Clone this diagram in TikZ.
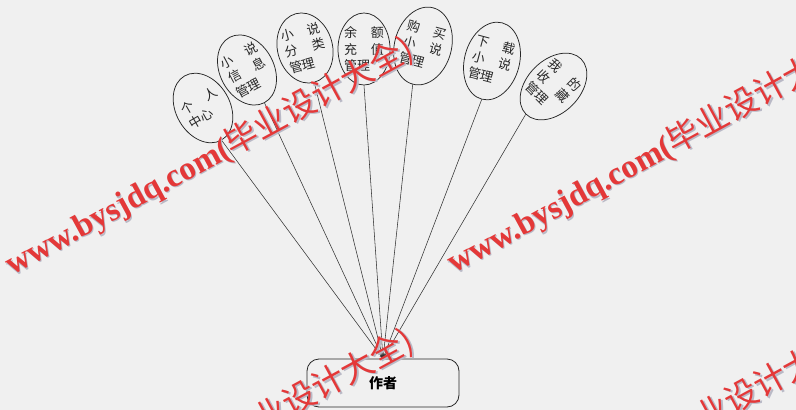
\documentclass[tikz,border=0pt]{standalone}
\usepackage{fontspec}
\setmainfont{Liberation Serif}
\newfontfamily\cjk{Noto Sans CJK SC}
\usetikzlibrary{shapes.geometric,arrows.meta}
\definecolor{bgc}{RGB}{240,240,240}
\definecolor{wmred}{RGB}{228,56,56}
\definecolor{wmsh}{RGB}{185,185,198}
\newcommand{\rowj}[2]{\makebox[40pt][s]{#1\hfill#2}}
\newcommand{\rowl}[1]{\makebox[40pt][l]{#1}}
\begin{document}
\begin{tikzpicture}[x=1pt,y=-1pt,
  ell/.style={draw=black!85, line width=0.75pt, ellipse, inner sep=0pt},
  etext/.style={font=\cjk\fontsize{13}{16.5}\selectfont, align=left, inner sep=0pt, text=black!85},
  conn/.style={draw=black!80, line width=0.55pt, -{Stealth[length=4pt,width=2.6pt]}},
  box/.style={draw=black!85, line width=0.8pt, rounded corners=12pt, minimum width=152pt, minimum height=48pt, inner sep=0pt, font=\cjk\bfseries\fontsize{14}{16}\selectfont},
  wm/.style={text=wmred, font=\fontsize{33}{33}\selectfont\bfseries, inner sep=0pt, anchor=base west, rotate=28.5}]
\useasboundingbox (0,0) rectangle (796,410);
\fill[bgc] (0,0) rectangle (796,410);

\node[ell, minimum width=54pt, minimum height=74pt, rotate=30] (e1) at (203,108) {};
\node[etext, rotate=30] (t1) at (e1.center) {\rowj{个}{人}\\\rowl{中心}};

\node[ell, minimum width=54pt, minimum height=74pt, rotate=28] (e2) at (247,70) {};
\node[etext, rotate=28] (t2) at (e2.center) {\rowj{小}{说}\\\rowj{信}{息}\\\rowl{管理}};

\node[ell, minimum width=55pt, minimum height=71pt, rotate=15] (e3) at (305,48) {};
\node[etext, rotate=15] (t3) at (e3.center) {\rowj{小}{说}\\\rowj{分}{类}\\\rowl{管理}};

\node[ell, minimum width=52pt, minimum height=72pt] (e4) at (364,49) {};
\node[etext] (t4) at (e4.center) {\rowj{余}{额}\\\rowj{充}{值}\\\rowl{管理}};

\node[ell, minimum width=57pt, minimum height=79pt, rotate=-15] (e5) at (423,46) {};
\node[etext, rotate=-15] (t5) at (e5.center) {\rowj{购}{买}\\\rowj{小}{说}\\\rowl{管理}};

\node[ell, minimum width=55pt, minimum height=79pt, rotate=-15] (e6) at (492,61) {};
\node[etext, rotate=-15] (t6) at (e6.center) {\rowj{下}{载}\\\rowj{小}{说}\\\rowl{管理}};

\node[ell, minimum width=53pt, minimum height=78pt, rotate=-45] (e7) at (553.5,86.5) {};
\node[etext, rotate=-45] (t7) at (e7.center) {\rowj{我}{的}\\\rowj{收}{藏}\\\rowl{管理}};

\node[box] (au) at (383,383) {作者};

\foreach \i in {1,...,7} \draw[conn] (e\i.south) -- (au.north);

\begin{scope}
\clip (0,0) rectangle (796,410);
\foreach \n/\x/\y in {1/12/276, 2/454/274, 3/12/568, 4/454/566} {
  \node[wm, text=wmsh] (ws\n) at (\x+1.2,\y+1.2) {www.bysjdq.com(\cjk\mdseries 毕业设计大全)};
  \node[wm] (w\n) at (\x,\y) {www.bysjdq.com(\cjk\mdseries 毕业设计大全)};
}
\end{scope}
\end{tikzpicture}
\end{document}
